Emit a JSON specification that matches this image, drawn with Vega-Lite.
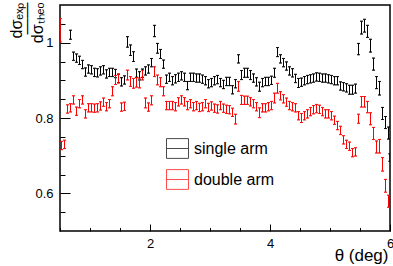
{
  "$schema": "https://vega.github.io/schema/vega-lite/v6.json",
  "width": 330,
  "height": 226,
  "autosize": "none",
  "padding": {"left": 60, "top": 5, "right": 3, "bottom": 35},
  "background": "white",
  "config": {
    "view": {"stroke": "black", "strokeWidth": 1.5},
    "font": "Liberation Sans",
    "axis": {"grid": false, "domain": false, "labelFont": "Liberation Sans", "labelFontSize": 13, "labelColor": "black", "tickColor": "black", "tickWidth": 1, "titleColor": "black", "titleFontWeight": "normal"}
  },
  "data": {"values": [
    {"t":0.675,"v":1.021,"e":0.012,"s":"single arm"},
    {"t":0.725,"v":0.964,"e":0.011,"s":"single arm"},
    {"t":0.775,"v":0.959,"e":0.011,"s":"single arm"},
    {"t":0.825,"v":0.953,"e":0.011,"s":"single arm"},
    {"t":0.875,"v":0.942,"e":0.011,"s":"single arm"},
    {"t":0.925,"v":0.922,"e":0.011,"s":"single arm"},
    {"t":0.975,"v":0.930,"e":0.011,"s":"single arm"},
    {"t":1.025,"v":0.928,"e":0.011,"s":"single arm"},
    {"t":1.075,"v":0.921,"e":0.011,"s":"single arm"},
    {"t":1.125,"v":0.920,"e":0.011,"s":"single arm"},
    {"t":1.175,"v":0.925,"e":0.011,"s":"single arm"},
    {"t":1.225,"v":0.928,"e":0.011,"s":"single arm"},
    {"t":1.275,"v":0.917,"e":0.011,"s":"single arm"},
    {"t":1.325,"v":0.921,"e":0.011,"s":"single arm"},
    {"t":1.375,"v":0.921,"e":0.011,"s":"single arm"},
    {"t":1.425,"v":0.918,"e":0.011,"s":"single arm"},
    {"t":1.475,"v":0.905,"e":0.011,"s":"single arm"},
    {"t":1.525,"v":0.896,"e":0.011,"s":"single arm"},
    {"t":1.575,"v":0.901,"e":0.011,"s":"single arm"},
    {"t":1.625,"v":1.002,"e":0.014,"s":"single arm"},
    {"t":1.675,"v":0.980,"e":0.014,"s":"single arm"},
    {"t":1.725,"v":0.963,"e":0.013,"s":"single arm"},
    {"t":1.775,"v":0.919,"e":0.011,"s":"single arm"},
    {"t":1.825,"v":0.912,"e":0.011,"s":"single arm"},
    {"t":1.875,"v":0.919,"e":0.011,"s":"single arm"},
    {"t":1.925,"v":0.925,"e":0.011,"s":"single arm"},
    {"t":1.975,"v":0.930,"e":0.011,"s":"single arm"},
    {"t":2.025,"v":0.947,"e":0.011,"s":"single arm"},
    {"t":2.075,"v":1.031,"e":0.015,"s":"single arm"},
    {"t":2.125,"v":0.985,"e":0.013,"s":"single arm"},
    {"t":2.175,"v":0.970,"e":0.012,"s":"single arm"},
    {"t":2.225,"v":0.943,"e":0.011,"s":"single arm"},
    {"t":2.275,"v":0.903,"e":0.011,"s":"single arm"},
    {"t":2.325,"v":0.908,"e":0.011,"s":"single arm"},
    {"t":2.375,"v":0.899,"e":0.011,"s":"single arm"},
    {"t":2.425,"v":0.904,"e":0.011,"s":"single arm"},
    {"t":2.475,"v":0.908,"e":0.011,"s":"single arm"},
    {"t":2.525,"v":0.912,"e":0.011,"s":"single arm"},
    {"t":2.575,"v":0.908,"e":0.011,"s":"single arm"},
    {"t":2.625,"v":0.886,"e":0.011,"s":"single arm"},
    {"t":2.675,"v":0.908,"e":0.011,"s":"single arm"},
    {"t":2.725,"v":0.908,"e":0.011,"s":"single arm"},
    {"t":2.775,"v":0.906,"e":0.011,"s":"single arm"},
    {"t":2.825,"v":0.906,"e":0.011,"s":"single arm"},
    {"t":2.875,"v":0.903,"e":0.011,"s":"single arm"},
    {"t":2.925,"v":0.899,"e":0.011,"s":"single arm"},
    {"t":2.975,"v":0.891,"e":0.011,"s":"single arm"},
    {"t":3.025,"v":0.894,"e":0.011,"s":"single arm"},
    {"t":3.075,"v":0.899,"e":0.011,"s":"single arm"},
    {"t":3.125,"v":0.902,"e":0.011,"s":"single arm"},
    {"t":3.175,"v":0.894,"e":0.011,"s":"single arm"},
    {"t":3.225,"v":0.889,"e":0.011,"s":"single arm"},
    {"t":3.275,"v":0.897,"e":0.011,"s":"single arm"},
    {"t":3.325,"v":0.897,"e":0.011,"s":"single arm"},
    {"t":3.375,"v":0.875,"e":0.011,"s":"single arm"},
    {"t":3.425,"v":0.891,"e":0.011,"s":"single arm"},
    {"t":3.475,"v":0.957,"e":0.011,"s":"single arm"},
    {"t":3.525,"v":0.914,"e":0.012,"s":"single arm"},
    {"t":3.575,"v":0.920,"e":0.012,"s":"single arm"},
    {"t":3.625,"v":0.920,"e":0.012,"s":"single arm"},
    {"t":3.675,"v":0.914,"e":0.012,"s":"single arm"},
    {"t":3.725,"v":0.906,"e":0.011,"s":"single arm"},
    {"t":3.775,"v":0.896,"e":0.011,"s":"single arm"},
    {"t":3.825,"v":0.883,"e":0.012,"s":"single arm"},
    {"t":3.875,"v":0.894,"e":0.011,"s":"single arm"},
    {"t":3.925,"v":0.897,"e":0.011,"s":"single arm"},
    {"t":3.975,"v":0.897,"e":0.011,"s":"single arm"},
    {"t":4.025,"v":0.900,"e":0.011,"s":"single arm"},
    {"t":4.075,"v":0.920,"e":0.012,"s":"single arm"},
    {"t":4.125,"v":0.975,"e":0.012,"s":"single arm"},
    {"t":4.175,"v":0.957,"e":0.011,"s":"single arm"},
    {"t":4.225,"v":0.947,"e":0.011,"s":"single arm"},
    {"t":4.275,"v":0.938,"e":0.011,"s":"single arm"},
    {"t":4.325,"v":0.925,"e":0.011,"s":"single arm"},
    {"t":4.375,"v":0.920,"e":0.011,"s":"single arm"},
    {"t":4.425,"v":0.905,"e":0.011,"s":"single arm"},
    {"t":4.475,"v":0.893,"e":0.012,"s":"single arm"},
    {"t":4.525,"v":0.895,"e":0.011,"s":"single arm"},
    {"t":4.575,"v":0.899,"e":0.011,"s":"single arm"},
    {"t":4.625,"v":0.902,"e":0.011,"s":"single arm"},
    {"t":4.675,"v":0.904,"e":0.011,"s":"single arm"},
    {"t":4.725,"v":0.906,"e":0.011,"s":"single arm"},
    {"t":4.775,"v":0.909,"e":0.011,"s":"single arm"},
    {"t":4.825,"v":0.908,"e":0.011,"s":"single arm"},
    {"t":4.875,"v":0.906,"e":0.011,"s":"single arm"},
    {"t":4.925,"v":0.906,"e":0.011,"s":"single arm"},
    {"t":4.975,"v":0.904,"e":0.011,"s":"single arm"},
    {"t":5.025,"v":0.902,"e":0.011,"s":"single arm"},
    {"t":5.075,"v":0.899,"e":0.011,"s":"single arm"},
    {"t":5.125,"v":0.899,"e":0.011,"s":"single arm"},
    {"t":5.175,"v":0.885,"e":0.011,"s":"single arm"},
    {"t":5.225,"v":0.883,"e":0.011,"s":"single arm"},
    {"t":5.275,"v":0.880,"e":0.011,"s":"single arm"},
    {"t":5.325,"v":0.875,"e":0.012,"s":"single arm"},
    {"t":5.375,"v":0.875,"e":0.012,"s":"single arm"},
    {"t":5.425,"v":0.878,"e":0.012,"s":"single arm"},
    {"t":5.475,"v":0.983,"e":0.015,"s":"single arm"},
    {"t":5.525,"v":1.040,"e":0.017,"s":"single arm"},
    {"t":5.575,"v":1.045,"e":0.017,"s":"single arm"},
    {"t":5.625,"v":1.030,"e":0.016,"s":"single arm"},
    {"t":5.675,"v":0.992,"e":0.017,"s":"single arm"},
    {"t":5.725,"v":0.943,"e":0.016,"s":"single arm"},
    {"t":5.775,"v":0.894,"e":0.016,"s":"single arm"},
    {"t":5.825,"v":0.879,"e":0.018,"s":"single arm"},
    {"t":5.875,"v":0.812,"e":0.016,"s":"single arm"},
    {"t":5.925,"v":0.788,"e":0.016,"s":"single arm"},
    {"t":5.975,"v":0.760,"e":0.016,"s":"single arm"},
    {"t":5.998,"v":0.695,"e":0.010,"s":"single arm"},
    {"t":0.505,"v":1.033,"e":0.031,"s":"double arm"},
    {"t":0.525,"v":0.727,"e":0.011,"s":"double arm"},
    {"t":0.575,"v":0.730,"e":0.011,"s":"double arm"},
    {"t":0.625,"v":0.824,"e":0.011,"s":"double arm"},
    {"t":0.675,"v":0.827,"e":0.011,"s":"double arm"},
    {"t":0.725,"v":0.848,"e":0.011,"s":"double arm"},
    {"t":0.775,"v":0.818,"e":0.011,"s":"double arm"},
    {"t":0.825,"v":0.838,"e":0.011,"s":"double arm"},
    {"t":0.875,"v":0.848,"e":0.011,"s":"double arm"},
    {"t":0.925,"v":0.811,"e":0.011,"s":"double arm"},
    {"t":0.975,"v":0.827,"e":0.011,"s":"double arm"},
    {"t":1.025,"v":0.827,"e":0.011,"s":"double arm"},
    {"t":1.075,"v":0.826,"e":0.011,"s":"double arm"},
    {"t":1.125,"v":0.827,"e":0.011,"s":"double arm"},
    {"t":1.175,"v":0.832,"e":0.011,"s":"double arm"},
    {"t":1.225,"v":0.842,"e":0.011,"s":"double arm"},
    {"t":1.275,"v":0.830,"e":0.011,"s":"double arm"},
    {"t":1.325,"v":0.838,"e":0.011,"s":"double arm"},
    {"t":1.375,"v":0.871,"e":0.012,"s":"double arm"},
    {"t":1.425,"v":0.901,"e":0.012,"s":"double arm"},
    {"t":1.475,"v":0.905,"e":0.012,"s":"double arm"},
    {"t":1.525,"v":0.829,"e":0.011,"s":"double arm"},
    {"t":1.575,"v":0.831,"e":0.011,"s":"double arm"},
    {"t":1.625,"v":0.914,"e":0.013,"s":"double arm"},
    {"t":1.675,"v":0.897,"e":0.013,"s":"double arm"},
    {"t":1.725,"v":0.892,"e":0.013,"s":"double arm"},
    {"t":1.775,"v":0.895,"e":0.013,"s":"double arm"},
    {"t":1.825,"v":0.893,"e":0.013,"s":"double arm"},
    {"t":1.875,"v":0.914,"e":0.013,"s":"double arm"},
    {"t":1.925,"v":0.840,"e":0.013,"s":"double arm"},
    {"t":1.975,"v":0.829,"e":0.011,"s":"double arm"},
    {"t":2.025,"v":0.847,"e":0.012,"s":"double arm"},
    {"t":2.075,"v":0.923,"e":0.013,"s":"double arm"},
    {"t":2.125,"v":0.901,"e":0.013,"s":"double arm"},
    {"t":2.175,"v":0.895,"e":0.012,"s":"double arm"},
    {"t":2.225,"v":0.871,"e":0.012,"s":"double arm"},
    {"t":2.275,"v":0.833,"e":0.011,"s":"double arm"},
    {"t":2.325,"v":0.833,"e":0.011,"s":"double arm"},
    {"t":2.375,"v":0.833,"e":0.011,"s":"double arm"},
    {"t":2.425,"v":0.830,"e":0.011,"s":"double arm"},
    {"t":2.475,"v":0.843,"e":0.011,"s":"double arm"},
    {"t":2.525,"v":0.848,"e":0.011,"s":"double arm"},
    {"t":2.575,"v":0.843,"e":0.011,"s":"double arm"},
    {"t":2.625,"v":0.833,"e":0.011,"s":"double arm"},
    {"t":2.675,"v":0.838,"e":0.011,"s":"double arm"},
    {"t":2.725,"v":0.830,"e":0.011,"s":"double arm"},
    {"t":2.775,"v":0.833,"e":0.011,"s":"double arm"},
    {"t":2.825,"v":0.828,"e":0.011,"s":"double arm"},
    {"t":2.875,"v":0.830,"e":0.011,"s":"double arm"},
    {"t":2.925,"v":0.838,"e":0.011,"s":"double arm"},
    {"t":2.975,"v":0.828,"e":0.011,"s":"double arm"},
    {"t":3.025,"v":0.832,"e":0.011,"s":"double arm"},
    {"t":3.075,"v":0.826,"e":0.011,"s":"double arm"},
    {"t":3.125,"v":0.824,"e":0.011,"s":"double arm"},
    {"t":3.175,"v":0.833,"e":0.011,"s":"double arm"},
    {"t":3.225,"v":0.826,"e":0.011,"s":"double arm"},
    {"t":3.275,"v":0.823,"e":0.011,"s":"double arm"},
    {"t":3.325,"v":0.822,"e":0.011,"s":"double arm"},
    {"t":3.375,"v":0.815,"e":0.011,"s":"double arm"},
    {"t":3.425,"v":0.797,"e":0.013,"s":"double arm"},
    {"t":3.475,"v":0.884,"e":0.013,"s":"double arm"},
    {"t":3.525,"v":0.848,"e":0.012,"s":"double arm"},
    {"t":3.575,"v":0.847,"e":0.011,"s":"double arm"},
    {"t":3.625,"v":0.847,"e":0.011,"s":"double arm"},
    {"t":3.675,"v":0.843,"e":0.011,"s":"double arm"},
    {"t":3.725,"v":0.838,"e":0.011,"s":"double arm"},
    {"t":3.775,"v":0.830,"e":0.011,"s":"double arm"},
    {"t":3.825,"v":0.814,"e":0.013,"s":"double arm"},
    {"t":3.875,"v":0.827,"e":0.011,"s":"double arm"},
    {"t":3.925,"v":0.827,"e":0.011,"s":"double arm"},
    {"t":3.975,"v":0.830,"e":0.011,"s":"double arm"},
    {"t":4.025,"v":0.833,"e":0.011,"s":"double arm"},
    {"t":4.075,"v":0.853,"e":0.013,"s":"double arm"},
    {"t":4.125,"v":0.879,"e":0.013,"s":"double arm"},
    {"t":4.175,"v":0.859,"e":0.011,"s":"double arm"},
    {"t":4.225,"v":0.851,"e":0.011,"s":"double arm"},
    {"t":4.275,"v":0.842,"e":0.011,"s":"double arm"},
    {"t":4.325,"v":0.833,"e":0.011,"s":"double arm"},
    {"t":4.375,"v":0.830,"e":0.011,"s":"double arm"},
    {"t":4.425,"v":0.827,"e":0.011,"s":"double arm"},
    {"t":4.475,"v":0.806,"e":0.011,"s":"double arm"},
    {"t":4.525,"v":0.800,"e":0.012,"s":"double arm"},
    {"t":4.575,"v":0.806,"e":0.011,"s":"double arm"},
    {"t":4.625,"v":0.811,"e":0.011,"s":"double arm"},
    {"t":4.675,"v":0.817,"e":0.011,"s":"double arm"},
    {"t":4.725,"v":0.822,"e":0.011,"s":"double arm"},
    {"t":4.775,"v":0.825,"e":0.011,"s":"double arm"},
    {"t":4.825,"v":0.823,"e":0.011,"s":"double arm"},
    {"t":4.875,"v":0.817,"e":0.011,"s":"double arm"},
    {"t":4.925,"v":0.811,"e":0.011,"s":"double arm"},
    {"t":4.975,"v":0.811,"e":0.011,"s":"double arm"},
    {"t":5.025,"v":0.806,"e":0.011,"s":"double arm"},
    {"t":5.075,"v":0.794,"e":0.011,"s":"double arm"},
    {"t":5.125,"v":0.780,"e":0.011,"s":"double arm"},
    {"t":5.175,"v":0.767,"e":0.011,"s":"double arm"},
    {"t":5.225,"v":0.742,"e":0.011,"s":"double arm"},
    {"t":5.275,"v":0.730,"e":0.011,"s":"double arm"},
    {"t":5.325,"v":0.725,"e":0.011,"s":"double arm"},
    {"t":5.375,"v":0.708,"e":0.011,"s":"double arm"},
    {"t":5.425,"v":0.710,"e":0.011,"s":"double arm"},
    {"t":5.475,"v":0.798,"e":0.012,"s":"double arm"},
    {"t":5.525,"v":0.843,"e":0.014,"s":"double arm"},
    {"t":5.575,"v":0.843,"e":0.014,"s":"double arm"},
    {"t":5.625,"v":0.829,"e":0.015,"s":"double arm"},
    {"t":5.675,"v":0.798,"e":0.016,"s":"double arm"},
    {"t":5.725,"v":0.759,"e":0.016,"s":"double arm"},
    {"t":5.775,"v":0.723,"e":0.016,"s":"double arm"},
    {"t":5.825,"v":0.725,"e":0.018,"s":"double arm"},
    {"t":5.875,"v":0.677,"e":0.018,"s":"double arm"},
    {"t":5.925,"v":0.620,"e":0.017,"s":"double arm"},
    {"t":5.975,"v":0.579,"e":0.016,"s":"double arm"}
  ]},
  "layer": [
    {
      "mark": {"type": "errorbar", "ticks": {"size": 3, "filled": false, "thickness": 0.01, "strokeWidth": 1}, "thickness": 1, "clip": true},
      "encoding": {
        "x": {"field": "t", "type": "quantitative", "scale": {"domain": [0.5, 6], "nice": false, "zero": false},
              "axis": {"orient": "bottom", "values": [2, 4, 6], "format": "d", "tickSize": -7, "labelPadding": 13, "labelFlush": false,
                       "title": "θ (deg)", "titleFont": "Liberation Sans", "titleFontSize": 17, "titleAnchor": "end", "titleAlign": "right", "titleX": 328, "titleY": 29, "titleBaseline": "alphabetic"}},
        "y": {"field": "v", "type": "quantitative", "scale": {"domain": [0.5, 1.1], "nice": false, "zero": false},
              "axis": {"orient": "left", "values": [0.6, 0.8, 1], "format": "~g", "tickSize": -10, "labelPadding": 17,
                       "title": ["dσₑₓₚ", "——", "dσₜₕₑₒ"], "titleFont": "Liberation Sans", "titleFontSize": 16, "titleLineHeight": 10.5,
                       "titleAngle": -90, "titleAlign": "right", "titleBaseline": "top", "titleX": -52, "titleY": -3}},
        "yError": {"field": "e"},
        "color": {"field": "s", "type": "nominal",
                  "scale": {"domain": ["single arm", "double arm"], "range": ["#000000", "#ff0000"]},
                  "legend": {"title": null, "orient": "none", "legendX": 106, "legendY": 132, "padding": 0,
                             "symbolType": "M-1,-0.9H1V0.9H-1Z M-1,0H1", "symbolSize": 484, "symbolStrokeWidth": 1, "symbolFillColor": "transparent",
                             "labelFont": "Liberation Sans", "labelFontSize": 16, "labelColor": "black", "labelOffset": 5, "rowPadding": 6}}
      }
    },
    {
      "mark": {"type": "point", "opacity": 0},
      "encoding": {
        "x": {"field": "t", "type": "quantitative", "scale": {"domain": [0.5, 6], "nice": false, "zero": false},
              "axis": {"orient": "bottom", "values": [0.5, 1, 1.5, 2.5, 3, 3.5, 4.5, 5, 5.5], "tickSize": -3.5, "labels": false, "title": null}},
        "y": {"field": "v", "type": "quantitative", "scale": {"domain": [0.5, 1.1], "nice": false, "zero": false},
              "axis": {"orient": "left", "values": [0.55, 0.65, 0.7, 0.75, 0.85, 0.9, 0.95, 1.05], "tickSize": -5, "labels": false, "title": null}}
      }
    }
  ],
  "resolve": {"axis": {"x": "independent", "y": "independent"}}
}
